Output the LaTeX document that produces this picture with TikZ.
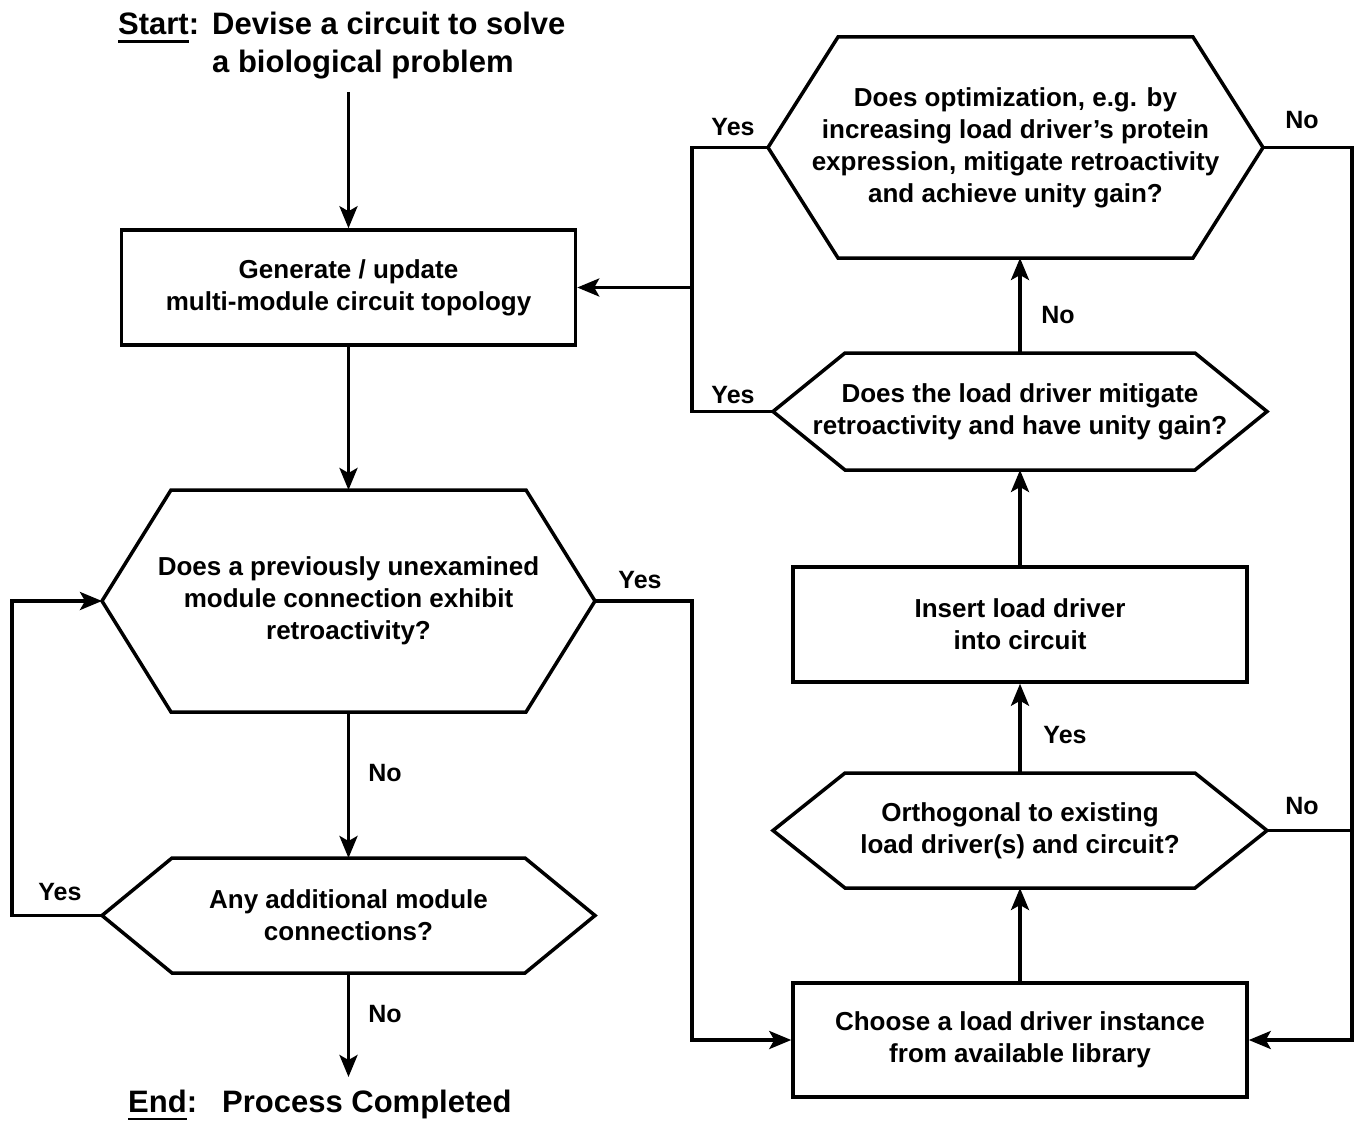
\documentclass[tikz,border=0pt]{standalone}
\usepackage{fontspec}
\setmainfont{Liberation Sans}
\usetikzlibrary{arrows.meta}
\newcommand{\myul}[1]{\setbox0\hbox{#1}\rlap{\rule[-8.3pt]{\wd0}{2.8pt}}#1}
\newcommand{\hexdraw}[2]{\draw[line] (#1.west) -- ([xshift=#2]#1.north west) -- ([xshift=-#2]#1.north east) -- (#1.east) -- ([xshift=-#2]#1.south east) -- ([xshift=#2]#1.south west) -- cycle;}
\begin{document}
\begin{tikzpicture}[x=1pt,y=-1pt,
  line/.style={line width=3.5pt, line join=miter},
  arr/.style={line width=3.5pt, line join=miter, -{Stealth[length=22pt,width=18pt,inset=5pt]}},
  body/.style={font=\fontsize{26}{32}\selectfont\bfseries, align=center},
  box/.style={draw, line width=3.5pt, inner sep=0pt, body},
  hex/.style={inner sep=0pt, outer sep=0pt, body},
  lbl/.style={font=\fontsize{25}{30}\selectfont\bfseries, inner sep=0pt},
  big/.style={font=\fontsize{31}{38}\selectfont\bfseries, inner sep=0pt, anchor=base west}]
\useasboundingbox (0,0) rectangle (1360,1121);
\fill[white] (0,0) rectangle (1360,1121);

% Start / End texts
\node[big] (startlbl) at (118,35) {\myul{Start}:};
\node[big] (start1) at (212,35) {Devise a circuit to solve};
\node[big] (start2) at (212,73) {a biological problem};
\node[big] (endlbl) at (128,1112) {\myul{End}:};
\node[big] (endtxt) at (222,1112) {Process Completed};
\coordinate (s0) at (348.5,92);
\coordinate (e0) at (348.5,1077);

% boxes
\node[box, minimum width=454pt, minimum height=115pt] (b1) at (348.5,287.5) {Generate / update\\multi-module circuit topology};
\node[box, minimum width=454pt, minimum height=115pt] (b2) at (1020,624.5) {Insert load driver\\into circuit};
\node[box, minimum width=454pt, minimum height=114pt] (b3) at (1020,1040) {Choose a load driver instance\\from available library};

% hexagons
\node[hex, minimum width=493pt, minimum height=222pt] (h1) at (348.5,601) {Does a previously unexamined\\module connection exhibit\\retroactivity?};
\node[hex, minimum width=493pt, minimum height=115pt] (h2) at (348.5,915.5) {Any additional module\\connections?};
\node[hex, minimum width=494pt, minimum height=117pt] (h3) at (1020,411.5) {Does the load driver mitigate\\retroactivity and have unity gain?};
\node[hex, minimum width=495pt, minimum height=221pt] (h4) at (1015.5,147.5) {Does optimization, e.g. by\\increasing load driver’s protein\\expression, mitigate retroactivity\\and achieve unity gain?};
\node[hex, minimum width=494pt, minimum height=115pt] (h5) at (1020,830.5) {Orthogonal to existing\\load driver(s) and circuit?};
\hexdraw{h1}{69}
\hexdraw{h2}{70}
\hexdraw{h3}{72}
\hexdraw{h4}{70}
\hexdraw{h5}{72}

% routing coordinates
\coordinate (lx) at (12,915.5);
\coordinate (rx) at (692,601);
\coordinate (ly) at (692,147.5);
\coordinate (jy) at (692,287.5);
\coordinate (rr) at (1352,147.5);

% connectors
\draw[arr] (s0) -- (b1.north);
\draw[arr] (b1.south) -- (h1.north);
\draw[arr] (h1.south) -- (h2.north);
\draw[arr] (h2.south) -- (e0);
\draw[arr] (h2.west) -- (lx) |- (h1.west);
\draw[arr] (h1.east) -- (rx) |- (b3.west);
\draw[arr] (b3.north) -- (b3.north |- h5.south);
\draw[arr] (h5.north) -- (b2.south);
\draw[arr] (b2.north) -- (h3.south);
\draw[arr] (h3.north) -- (h3.north |- h4.south);
\draw[line] (h4.west) -- (ly) |- (h3.west);
\draw[arr] (jy) -- (b1.east);
\draw[arr] (h4.east) -- (rr) |- (b3.east);
\draw[line] (h5.east) -- (h5.east -| rr);

% labels
\node[lbl] (l1) at (385,773) {No};
\node[lbl] (l2) at (385,1014) {No};
\node[lbl] (l3) at (60,892) {Yes};
\node[lbl] (l4) at (640,580) {Yes};
\node[lbl] (l5) at (733,127) {Yes};
\node[lbl] (l6) at (733,395) {Yes};
\node[lbl] (l7) at (1302,120) {No};
\node[lbl] (l8) at (1302,806) {No};
\node[lbl] (l9) at (1058,315) {No};
\node[lbl] (l10) at (1065,735) {Yes};
\end{tikzpicture}
\end{document}
